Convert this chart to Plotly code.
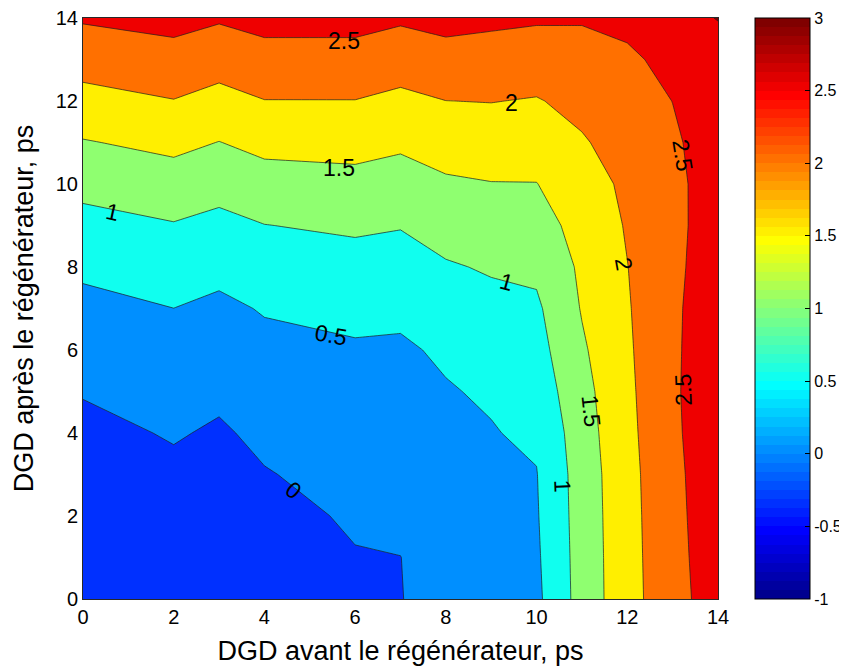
import math
import plotly.graph_objects as go

# ---------------- data ----------------
dgd_avant = [0, 2, 3, 4, 6, 7, 8, 9, 10, 11, 12, 13, 14]          # x grid (ps)
dgd_apres = [0, 1, 2, 3, 4, 5, 6, 7, 8, 9, 10, 11, 12, 13, 14]     # y grid (ps)

# z values, one list per column (x value), rows follow dgd_apres
col_x0 = [-0.35, -0.33, -0.30, -0.25, -0.145, 0.034, 0.213, 0.38, 0.58, 0.84, 1.141, 1.47, 1.837, 2.199, 2.55]
col_x2 = [-0.30, -0.27, -0.20, -0.11, 0.043, 0.195, 0.348, 0.498, 0.736, 0.972, 1.284, 1.62, 1.985, 2.331, 2.65]
col_x3 = [-0.30, -0.27, -0.22, -0.15, -0.064, 0.10, 0.264, 0.41, 0.62, 0.87, 1.168, 1.49, 1.846, 2.20, 2.55]
col_x4 = [-0.33, -0.28, -0.18, -0.029, 0.11, 0.249, 0.389, 0.53, 0.768, 0.991, 1.302, 1.632, 1.989, 2.332, 2.65]
col_x6 = [-0.10, -0.03, 0.069, 0.168, 0.267, 0.366, 0.475, 0.56, 0.82, 1.073, 1.356, 1.661, 1.99, 2.332, 2.65]
col_x7 = [-0.01, -0.004, 0.089, 0.181, 0.273, 0.365, 0.46, 0.56, 0.813, 1.022, 1.295, 1.578, 1.891, 2.223, 2.565]
col_x8 = [0.133, 0.202, 0.271, 0.340, 0.409, 0.479, 0.542, 0.749, 0.956, 1.192, 1.434, 1.71, 1.997, 2.324, 2.65]
col_x9 = [0.33, 0.37, 0.41, 0.45, 0.482, 0.537, 0.702, 0.868, 1.044, 1.264, 1.485, 1.746, 2.012, 2.302, 2.593]
col_x10 = [0.396, 0.431, 0.462, 0.485, 0.56, 0.705, 0.822, 0.92, 1.095, 1.292, 1.49, 1.729, 1.971, 2.259, 2.553]
col_x11 = [1.196, 1.203, 1.216, 1.23, 1.278, 1.34, 1.433, 1.53, 1.582, 1.678, 1.792, 1.955, 2.131, 2.36, 2.531]
col_x12 = [1.82, 1.826, 1.833, 1.845, 1.874, 1.901, 1.933, 1.961, 1.992, 2.037, 2.089, 2.196, 2.317, 2.45, 2.575]
col_x13 = [2.322, 2.34, 2.359, 2.376, 2.405, 2.422, 2.413, 2.403, 2.377, 2.37, 2.387, 2.441, 2.504, 2.58, 2.80]
col_x14 = [2.75, 2.78, 2.80, 2.82, 2.85, 2.86, 2.85, 2.84, 2.80, 2.75, 2.72, 2.70, 2.70, 2.75, 3.02]

columns = [col_x0, col_x2, col_x3, col_x4, col_x6, col_x7, col_x8, col_x9,
           col_x10, col_x11, col_x12, col_x13, col_x14]

contour_levels = [0, 0.5, 1, 1.5, 2, 2.5, 3]
cbar_ticks = [-1, -0.5, 0, 0.5, 1, 1.5, 2, 2.5, 3]
x_ticks = [0, 2, 4, 6, 8, 10, 12, 14]
y_ticks = [0, 2, 4, 6, 8, 10, 12, 14]

# contour labels: (text, x, y, angle)
label_text = ["2.5", "2", "1.5", "1", "1", "0.5", "0", "2", "2.5", "1.5", "1", "2.5"]
label_x = [5.75, 9.45, 5.64, 0.64, 9.34, 5.47, 4.63, 11.92, 13.22, 11.2, 10.58, 13.24]
label_y = [13.45, 11.95, 10.39, 9.33, 7.64, 6.37, 2.62, 8.07, 10.70, 4.53, 2.71, 5.03]
label_angle = [0, 0, 0, 12, 15, 10, 37, 80, 81, 84, 88, -92]

# ---------------- styling helpers ----------------
def jet64():
    m = 64
    n = math.ceil(m / 4)
    u = [i / n for i in range(1, n + 1)] + [1.0] * (n - 1) + [i / n for i in range(n, 0, -1)]
    g0 = math.ceil(n / 2) - (1 if m % 4 == 1 else 0)
    J = [[0.0, 0.0, 0.0] for _ in range(m)]
    for k in range(len(u)):
        gi = g0 + k + 1
        for ch, idx in ((1, gi), (0, gi + n), (2, gi - n)):
            if 1 <= idx <= m:
                J[idx - 1][ch] = u[k]
    return J

JET = jet64()

def rgb(c):
    return "rgb(%d,%d,%d)" % tuple(round(v * 255) for v in c)

def jet_color_for(v, cmin=-1.0, cmax=3.0):
    idx = int(math.floor((v - cmin) / (cmax - cmin) * 64))
    idx = max(0, min(63, idx))
    return rgb(JET[idx])

# band colours (MATLAB contourf: band coloured by its lower level)
band_values = [-0.35] + contour_levels
band_colors = [jet_color_for(v) for v in band_values]
nb = len(band_colors)
contour_scale = [[i / (nb - 1), c] for i, c in enumerate(band_colors)]

# banded jet colorscale for colorbar
cbar_scale = []
for i, c in enumerate(JET):
    cbar_scale.append([i / 64, rgb(c)])
    cbar_scale.append([(i + 1) / 64, rgb(c)])

z = [[columns[ci][ri] for ci in range(len(dgd_avant))] for ri in range(len(dgd_apres))]

FONT = "Liberation Sans, Arial, Helvetica, sans-serif"

fig = go.Figure()
fig.add_trace(go.Contour(
    x=dgd_avant, y=dgd_apres, z=z,
    autocontour=False,
    contours=dict(start=contour_levels[0], end=contour_levels[-1], size=0.5,
                  coloring="fill", showlabels=False),
    colorscale=contour_scale,
    line=dict(color="rgb(30,30,30)", width=0.7, smoothing=0),
    showscale=False,
    hoverinfo="skip",
))

fig.add_trace(go.Scatter(
    x=[None], y=[None], mode="markers", showlegend=False, hoverinfo="skip",
    marker=dict(color=[0], colorscale=cbar_scale, cmin=cbar_ticks[0], cmax=cbar_ticks[-1],
                showscale=True,
                colorbar=dict(
                    x=1.0583, xanchor="left", xpad=0,
                    y=0.5, yanchor="middle", ypad=0,
                    len=1.0, lenmode="fraction",
                    thickness=55, thicknessmode="pixels",
                    outlinecolor="black", outlinewidth=1,
                    tickvals=cbar_ticks, ticktext=[("%g" % t) for t in cbar_ticks],
                    ticks="inside", ticklen=5, tickcolor="black",
                    ticklabeloverflow="allow",
                    tickfont=dict(family=FONT, size=16, color="black"),
                )),
))

for t, lx, ly, a in zip(label_text, label_x, label_y, label_angle):
    fig.add_annotation(x=lx, y=ly, text=t, showarrow=False, textangle=a,
                       font=dict(family=FONT, size=23, color="black"))

axis_common = dict(
    showline=True, linecolor="rgb(40,40,40)", linewidth=1, mirror=True,
    ticks="", showgrid=False, zeroline=False, ticklabeloverflow="allow",
    tickfont=dict(family=FONT, size=20, color="black"),
)

# the page adds an 8 px body margin, so the figure is 8 px smaller than the window
fig.update_layout(
    width=839, height=662,
    margin=dict(l=75, r=129, t=10, b=71, pad=0, autoexpand=False),
    paper_bgcolor="white", plot_bgcolor="white",
    xaxis=dict(range=[0, 14], tickvals=x_ticks, **axis_common,
               title=dict(text="DGD avant le régénérateur, ps", standoff=14,
                          font=dict(family=FONT, size=27, color="black"))),
    yaxis=dict(range=[0, 14], tickvals=y_ticks, **axis_common,
               title=dict(text="DGD après le régénérateur, ps", standoff=14,
                          font=dict(family=FONT, size=27, color="black"))),
    showlegend=False,
)

fig.write_html("out.html")
